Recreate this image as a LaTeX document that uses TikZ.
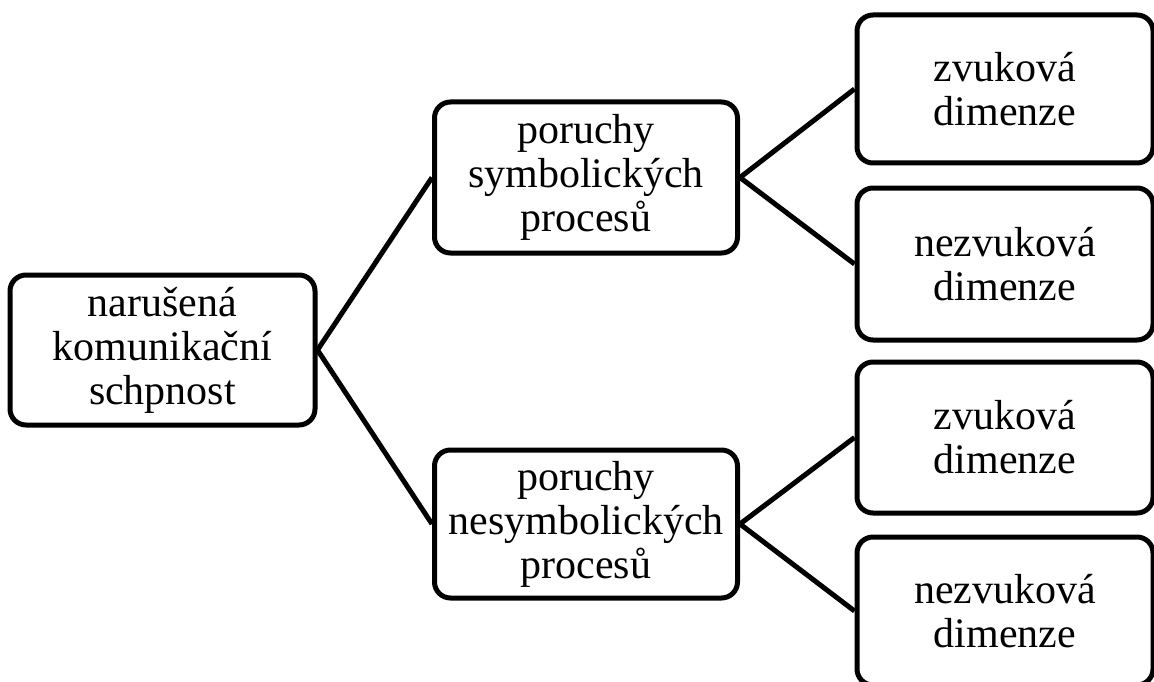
\documentclass[tikz,border=0pt]{standalone}
\usepackage{fontspec}
\setmainfont{Liberation Serif}
\begin{document}
\begin{tikzpicture}[x=1pt,y=-1pt,
  box/.style={draw=black, line width=5pt, rounded corners=16pt, align=center,
    font=\fontsize{42}{44}\selectfont, inner sep=0pt},
  conn/.style={draw=black, line width=5pt}]
\useasboundingbox (0,0) rectangle (1154,682);
\node[box, minimum width=305pt, minimum height=150pt] (root) at (162.5,350) {narušená\\komunikační\\schpnost};
\node[box, minimum width=303pt, minimum height=151pt] (m1) at (586,177.5) {poruchy\\symbolických\\procesů};
\node[box, minimum width=303pt, minimum height=148pt] (m2) at (586,524) {poruchy\\nesymbolických\\procesů};
\node[box, minimum width=296pt, minimum height=148pt] (r1) at (1005,89) {zvuková\\dimenze};
\node[box, minimum width=296pt, minimum height=152pt] (r2) at (1005,264) {nezvuková\\dimenze};
\node[box, minimum width=296pt, minimum height=151pt] (r3) at (1005,437.5) {zvuková\\dimenze};
\node[box, minimum width=296pt, minimum height=148pt] (r4) at (1005,611) {nezvuková\\dimenze};
\draw[conn] (m1.west) -- (root.east) -- (m2.west);
\draw[conn] (r1.west) -- (m1.east) -- (r2.west);
\draw[conn] (r3.west) -- (m2.east) -- (r4.west);
\end{tikzpicture}
\end{document}
